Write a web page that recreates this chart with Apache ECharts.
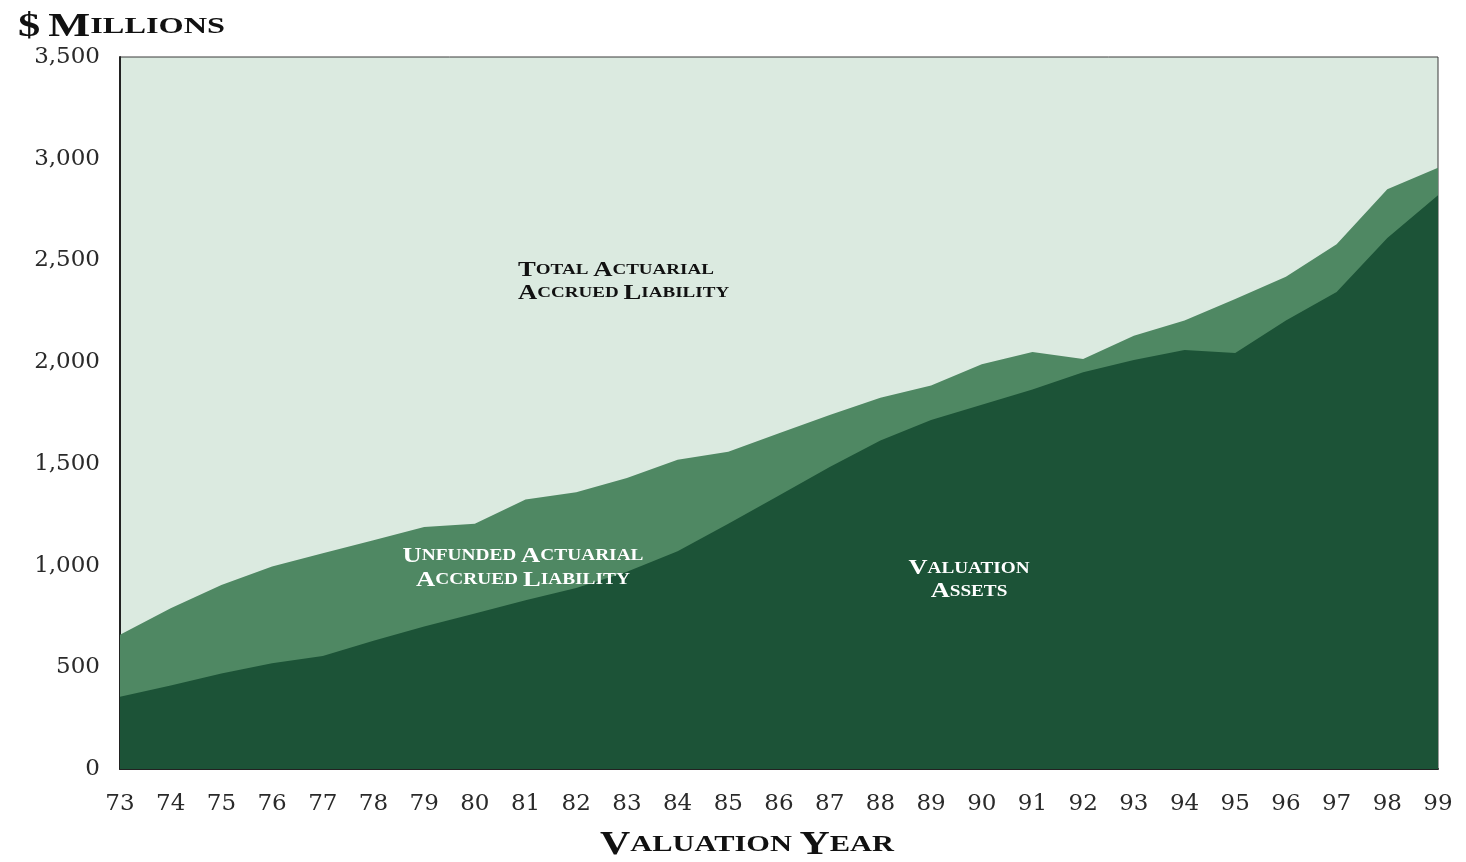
<!DOCTYPE html>
<html>
<head>
<meta charset="utf-8">
<title>Actuarial Liability and Valuation Assets</title>
<script src="https://cdn.jsdelivr.net/npm/echarts@6/dist/echarts.min.js"></script>
<style>
  html, body { margin: 0; padding: 0; background: #ffffff; }
  #chart { width: 1466px; height: 862px; }
</style>
</head>
<body>
<div id="chart"></div>
<script>
// Valuation years (two-digit)
const years = ['73','74','75','76','77','78','79','80','81','82','83','84','85',
               '86','87','88','89','90','91','92','93','94','95','96','97','98','99'];

// Total actuarial accrued liability, $ millions
const totalLiability = [660, 790, 905, 995, 1060, 1125, 1190, 1205, 1325, 1360, 1430, 1520, 1560,
                        1650, 1740, 1825, 1885, 1990, 2050, 2015, 2130, 2205, 2310, 2420, 2580, 2850, 2955];

// Valuation assets, $ millions
const valuationAssets = [355, 410, 470, 520, 555, 630, 700, 765, 830, 890, 970, 1070, 1205,
                         1345, 1485, 1615, 1715, 1790, 1865, 1950, 2010, 2060, 2045, 2205, 2345, 2610, 2820];

// Y axis ticks
const yTicks = [0, 500, 1000, 1500, 2000, 2500, 3000, 3500];

const SERIF = '"Liberation Serif", "DejaVu Serif", serif';
const TICK_FONT = '"DejaVu Serif", "Liberation Serif", serif';

const chart = echarts.init(document.getElementById('chart'));

function withCommas(v) {
  return String(v).replace(/\B(?=(\d{3})+(?!\d))/g, ',');
}

// ---- small-caps headings: capitals at a large size, the rest smaller ----
const measureCtx = document.createElement('canvas').getContext('2d');

// words -> rich string + natural width (first letter large, rest small)
function smallCaps(line, big, small) {
  let rich = '';
  let width = 0;
  line.split(' ').forEach((word, i, arr) => {
    const head = word.charAt(0);
    const tail = word.slice(1) + (i < arr.length - 1 ? ' ' : '');
    rich += '{a|' + head + '}' + (tail ? '{b|' + tail + '}' : '');
    measureCtx.font = 'bold ' + big + 'px ' + SERIF;
    width += measureCtx.measureText(head).width;
    measureCtx.font = 'bold ' + small + 'px ' + SERIF;
    width += measureCtx.measureText(tail).width;
  });
  return { rich, width };
}

// heading block: lines of words, widened to the given span of its first line
function heading(opts) {
  const parts = opts.lines.map(l => smallCaps(l, opts.big, opts.small));
  const sx = opts.span / parts[0].width;
  return {
    type: 'text',
    x: opts.x,
    y: opts.y,
    scaleX: sx,
    z: 10,
    style: {
      text: parts.map(p => p.rich).join('\n'),
      align: opts.align || 'left',
      verticalAlign: 'middle',
      rich: {
        a: { fontFamily: SERIF, fontSize: opts.big, fontWeight: 'bold', fill: opts.color,
             lineHeight: opts.lineHeight, align: opts.align || 'left' },
        b: { fontFamily: SERIF, fontSize: opts.small, fontWeight: 'bold', fill: opts.color,
             lineHeight: opts.lineHeight, align: opts.align || 'left' }
      }
    }
  };
}

chart.setOption({
  animation: false,
  backgroundColor: '#ffffff',
  grid: {
    left: 120, right: 28, top: 57, bottom: 93,
    show: true,
    backgroundColor: '#dbeae0',
    borderColor: '#3a3a3a',
    borderWidth: 1
  },
  xAxis: {
    type: 'category',
    data: years,
    boundaryGap: false,
    axisLine: { show: true, lineStyle: { color: '#222', width: 2 } },
    axisTick: { show: false },
    axisLabel: {
      margin: 24,
      fontFamily: TICK_FONT,
      fontSize: 23,
      color: '#2a2a2a',
      interval: 0
    },
    splitLine: { show: false }
  },
  yAxis: {
    type: 'value',
    min: yTicks[0],
    max: yTicks[yTicks.length - 1],
    interval: 500,
    axisLine: { show: true, lineStyle: { color: '#222', width: 2 } },
    axisTick: { show: false },
    splitLine: { show: false },
    axisLabel: {
      margin: 20,
      fontFamily: TICK_FONT,
      fontSize: 23,
      color: '#2a2a2a',
      formatter: withCommas
    }
  },
  series: [
    {
      name: 'Total Actuarial Accrued Liability',
      type: 'line',
      data: totalLiability,
      symbol: 'none',
      lineStyle: { width: 0 },
      areaStyle: { color: '#4f8863', opacity: 1 },
      z: 2
    },
    {
      name: 'Valuation Assets',
      type: 'line',
      data: valuationAssets,
      symbol: 'none',
      lineStyle: { width: 0 },
      areaStyle: { color: '#1c5337', opacity: 1 },
      z: 3
    }
  ],
  graphic: [
    heading({ lines: ['$ MILLIONS'], big: 33, small: 24, color: '#111',
              x: 18, y: 27, span: 207, lineHeight: 34 }),
    heading({ lines: ['VALUATION YEAR'], big: 33, small: 24, color: '#111',
              x: 600, y: 845, span: 294, lineHeight: 34 }),
    heading({ lines: ['TOTAL ACTUARIAL', 'ACCRUED LIABILITY'], big: 21, small: 15, color: '#111',
              x: 518, y: 282, span: 196, lineHeight: 23 }),
    heading({ lines: ['UNFUNDED ACTUARIAL', 'ACCRUED LIABILITY'], big: 22, small: 16, color: '#ffffff',
              x: 523, y: 568, span: 241, lineHeight: 24, align: 'center' }),
    heading({ lines: ['VALUATION', 'ASSETS'], big: 22, small: 16, color: '#ffffff',
              x: 969, y: 580, span: 121, lineHeight: 23, align: 'center' })
  ]
});
</script>
</body>
</html>
